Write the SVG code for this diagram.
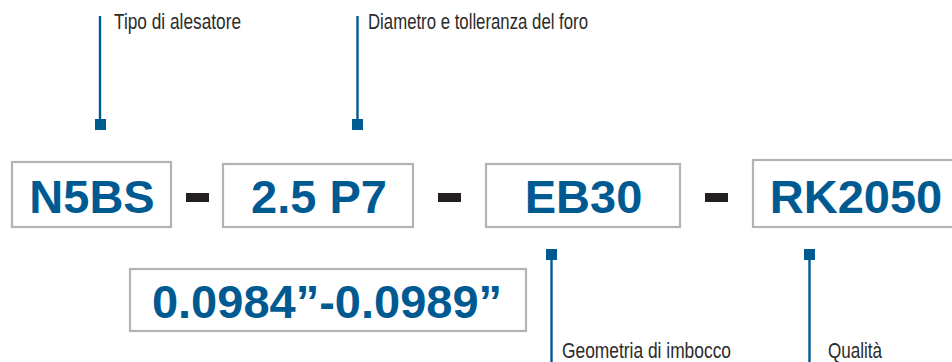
<svg xmlns="http://www.w3.org/2000/svg" width="952" height="362" viewBox="0 0 952 362">
<style>
.box{fill:#fff;stroke:#b1b3b6;stroke-width:2.2}
.code{font-family:"Liberation Sans",Arial,sans-serif;font-weight:bold;font-size:47px;fill:#005a92;text-anchor:middle}
.lbl{font-family:"Liberation Sans Narrow","Liberation Sans",Arial,sans-serif;font-size:21.5px;fill:#2b2b2b}
.dash{fill:#231f20}
.ln{stroke:#005a92;stroke-width:2.4;fill:none}
.sq{fill:#005a92}
</style>
<g id="connectors">
<line class="ln" x1="100" y1="16" x2="100" y2="120"/>
<rect class="sq" x="95" y="119" width="11" height="11"/>
<line class="ln" x1="357.5" y1="16" x2="357.5" y2="120"/>
<rect class="sq" x="352" y="119" width="11" height="11"/>
<line class="ln" x1="551.5" y1="258" x2="551.5" y2="362"/>
<rect class="sq" x="546" y="249" width="11" height="11"/>
<line class="ln" x1="809.5" y1="258" x2="809.5" y2="362"/>
<rect class="sq" x="804" y="249" width="11" height="11"/>
</g>
<g id="label-tipo"><text class="lbl" x="114" y="29" textLength="127" lengthAdjust="spacingAndGlyphs">Tipo di alesatore</text></g>
<g id="label-diametro"><text class="lbl" x="368" y="29" textLength="220" lengthAdjust="spacingAndGlyphs">Diametro e tolleranza del foro</text></g>
<g id="label-geometria"><text class="lbl" x="562" y="358" textLength="169" lengthAdjust="spacingAndGlyphs">Geometria di imbocco</text></g>
<g id="label-qualita"><text class="lbl" x="828" y="358" textLength="54" lengthAdjust="spacingAndGlyphs">Qualità</text></g>
<g id="node-n5bs">
<rect class="box" x="12" y="162" width="159" height="65"/>
<text class="code" x="92" y="213">N5BS</text>
</g>
<rect class="dash" x="186" y="193" width="23" height="9"/>
<g id="node-p7">
<rect class="box" x="223" y="164" width="190" height="63"/>
<text class="code" x="319" y="213">2.5 P7</text>
</g>
<rect class="dash" x="438" y="193" width="23" height="9"/>
<g id="node-eb30">
<rect class="box" x="486" y="164" width="194" height="63"/>
<text class="code" x="583.5" y="213">EB30</text>
</g>
<rect class="dash" x="705" y="193" width="23" height="9"/>
<g id="node-rk2050">
<rect class="box" x="753" y="160" width="210" height="67"/>
<text class="code" x="856" y="213">RK2050</text>
</g>
<g id="node-inch">
<rect class="box" x="130" y="269" width="396" height="62"/>
<text class="code" x="327" y="318">0.0984”-0.0989”</text>
</g>
</svg>
